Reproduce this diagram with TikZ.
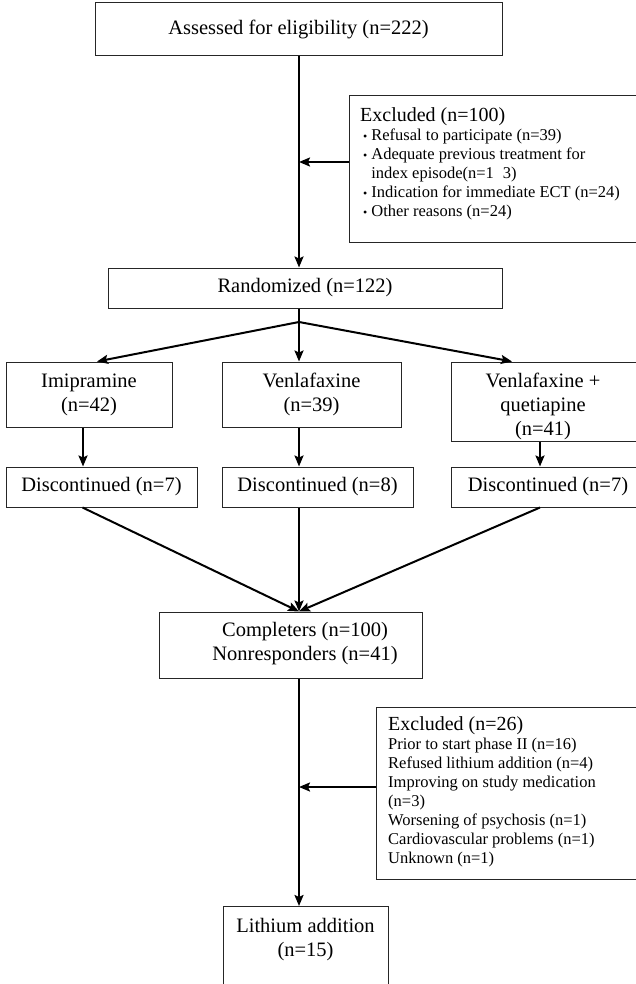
\documentclass[tikz,border=0pt]{standalone}
\usepackage{fontspec}
\setmainfont{Liberation Serif}
\usetikzlibrary{arrows.meta}
\newcommand\mainfnt{\fontsize{20.5}{24}\selectfont}
\newcommand\hdrfnt{\fontsize{20}{20}\selectfont}
\newcommand\bodyfnt{\fontsize{16.5}{19}\selectfont}
\newcommand\bul{\hspace*{3pt}{\fontsize{12}{12}\selectfont\textbullet}\hspace{4pt}}
\begin{document}
\begin{tikzpicture}[x=1pt,y=-1pt,
  box/.style={draw=black!85, line width=1pt, rectangle, inner sep=0pt, align=center, font=\mainfnt},
  txt/.style={inner sep=0pt, align=left, font=\bodyfnt},
  conn/.style={line width=2pt, black},
  arr/.style={conn, -{Stealth[length=11pt,width=9pt,inset=2pt]}}]
\fill[white] (0,0) rectangle (635,984);
\useasboundingbox (0,0) rectangle (635,984);

% boxes
\node[box, minimum width=407pt, minimum height=53pt] (assess) at (298.5,29.5) {Assessed for eligibility (n=222)};
\node[box, minimum width=296pt, minimum height=147pt, anchor=north west] (exc1) at (349,95) {};
\node[txt, anchor=north west] (exc1txt) at (360,107) {{\hdrfnt Excluded (n=100)}\\
\bul Refusal to participate (n=39)\\
\bul Adequate previous treatment for\\
\phantom{\bul}index episode(n=1\hspace{9pt}3)\\
\bul Indication for immediate ECT (n=24)\\
\bul Other reasons (n=24)};
\node[box, minimum width=394pt, minimum height=40pt] (rand) at (305,288) {Randomized (n=122)};

\node[box, minimum width=166pt, minimum height=65pt] (imip) at (89,394.5) {Imipramine\\(n=42)};
\node[box, minimum width=179pt, minimum height=65pt] (venl) at (311.5,394.5) {Venlafaxine\\(n=39)};
\node[box, minimum width=194pt, minimum height=79pt] (quet) at (548,401.5) {};
\node[box, draw=none, anchor=north] (quettxt) at (543,373) {Venlafaxine +\\quetiapine\\(n=41)};

\node[box, minimum width=191pt, minimum height=40pt] (d1) at (101.5,487) {Discontinued (n=7)};
\node[box, minimum width=191pt, minimum height=40pt] (d2) at (317.5,487) {Discontinued (n=8)};
\node[box, minimum width=194pt, minimum height=40pt] (d3) at (548,487) {Discontinued (n=7)};

\node[box, minimum width=263pt, minimum height=66pt] (comp) at (290.5,645) {};
\node[box, draw=none] (comptxt) at (305,644) {Completers (n=100)\\Nonresponders (n=41)};

\node[box, minimum width=269pt, minimum height=172pt, anchor=north west] (exc2) at (376,707) {};
\node[txt, anchor=north west] (exc2txt) at (388,716) {{\hdrfnt Excluded (n=26)}\\
Prior to start phase II (n=16)\\
Refused lithium addition (n=4)\\
Improving on study medication\\
(n=3)\\
Worsening of psychosis (n=1)\\
Cardiovascular problems (n=1)\\
Unknown (n=1)};

\node[box, minimum width=165pt, minimum height=94pt, anchor=north] (lith) at (305.5,906) {};
\node[box, draw=none, anchor=north] (lithtxt) at (305.5,918) {Lithium addition\\(n=15)};

% connectors
\coordinate (c1) at (299,162);
\coordinate (br) at (299,322);
\coordinate (c2) at (299,787);

\draw[arr] (assess.south -| c1) -- (rand.north -| c1);
\draw[arr] (exc1.west |- c1) -- (c1);
\draw[conn] (rand.south -| br) -- (br);
\draw[arr] (br) -- ([xshift=8pt]imip.north);
\draw[arr] (br) -- (venl.north -| br);
\draw[arr] (br) -- ([xshift=-36pt]quet.north);

\draw[arr] ([xshift=-6pt]imip.south) -- ([xshift=-6pt]imip.south |- d1.north);
\draw[arr] (venl.south -| br) -- (d2.north -| br);
\draw[arr] ([xshift=-8pt]quet.south) -- ([xshift=-8pt]quet.south |- d3.north);

\draw[arr] ([xshift=-19pt]d1.south) -- (comp.north -| br);
\draw[arr] (d2.south -| br) -- (comp.north -| br);
\draw[arr] ([xshift=-8pt]d3.south) -- (comp.north -| br);

\draw[arr] (comp.south -| c2) -- (lith.north -| c2);
\draw[arr] (exc2.west |- c2) -- (c2);
\end{tikzpicture}
\end{document}
